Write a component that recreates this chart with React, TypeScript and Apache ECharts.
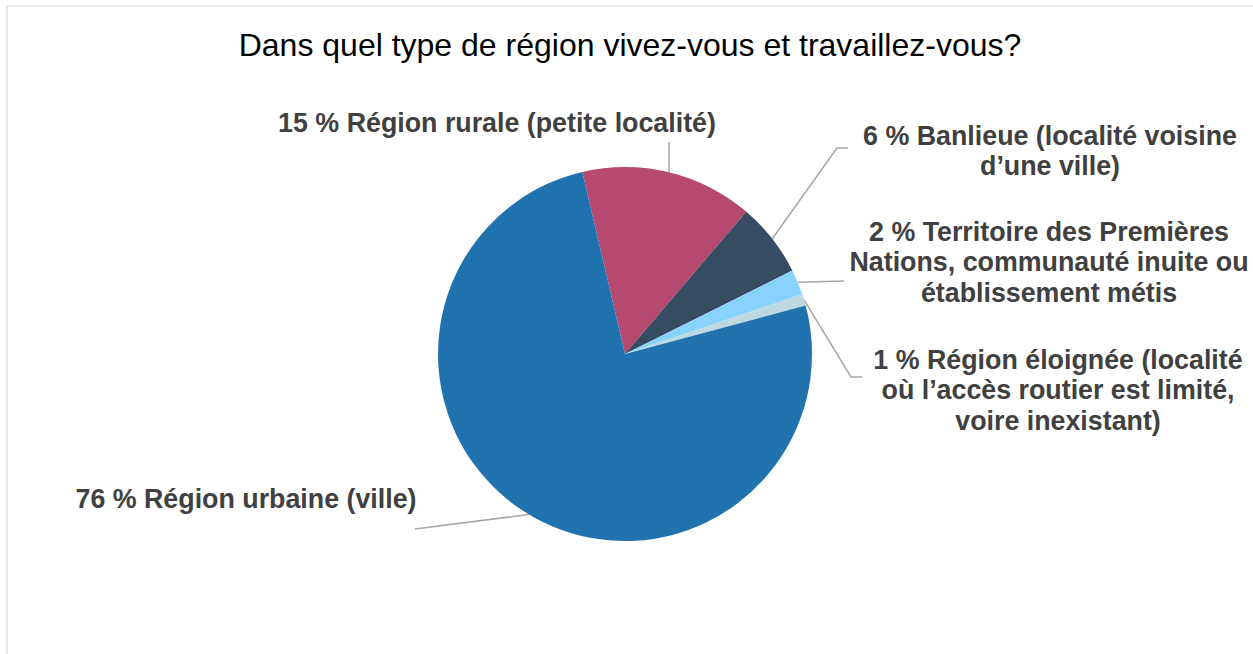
import React, { useEffect, useRef } from "react";
import * as echarts from "echarts";

const titleText = "Dans quel type de région vivez-vous et travaillez-vous?";
const categories = [
  "Région rurale (petite localité)",
  "Banlieue (localité voisine\nd’une ville)",
  "Territoire des Premières\nNations, communauté inuite ou\nétablissement métis",
  "Région éloignée (localité\noù l’accès routier est limité,\nvoire inexistant)",
  "Région urbaine (ville)",
];
const values = [14.9, 6.4, 2.2, 1.0, 75.5];
const colors = ["#B5496F", "#364C62", "#87D3FD", "#BED8E1", "#2173B0"];

const FONT = "'Liberation Sans', Arial, Helvetica, sans-serif";

// label anchor positions and leader-line bends (layout only)
const labelLayouts: Array<{ x: number; y: number; pts: (p: number[]) => number[][] }> = [
  { x: 497, y: 123, pts: (p) => [p, [p[0], 142], [p[0], 142]] },
  { x: 1050, y: 151, pts: (p) => [p, [837, 148], [848, 148]] },
  { x: 1049, y: 262, pts: (p) => [p, [844, 281], [844, 281]] },
  { x: 1058, y: 390, pts: (p) => [p, [851, 377], [862, 377]] },
  { x: 246, y: 499, pts: (p) => [p, [415, 529], [415, 529]] },
];

export default function App() {
  const ref = useRef<HTMLDivElement>(null);
  useEffect(() => {
    if (!ref.current) return;
    const chart = echarts.init(ref.current, null, { renderer: "svg" });
    chart.setOption({
      animation: false,
      backgroundColor: "#ffffff",
      graphic: [
        {
          type: "polyline",
          shape: { points: [[7, 700], [7, 6], [1300, 6]] },
          style: { stroke: "#D9D9D9", lineWidth: 1.2, fill: null },
          silent: true,
        },
        {
          type: "text",
          x: 630,
          y: 45,
          style: {
            text: titleText,
            align: "center",
            verticalAlign: "middle",
            fontFamily: FONT,
            fontSize: 32,
            fill: "#000000",
          },
        },
      ],
      series: [
        {
          type: "pie",
          center: [625, 354],
          radius: 187,
          startAngle: 103.2,
          clockwise: true,
          avoidLabelOverlap: false,
          data: categories.map((name, i) => ({
            name,
            value: values[i],
            itemStyle: { color: colors[i] },
          })),
          label: {
            show: true,
            position: "outside",
            formatter: (p: any) => `${Math.round(p.value)} % ${p.name}`,
            fontFamily: FONT,
            fontSize: 26.8,
            fontWeight: "bold",
            color: "#404040",
            lineHeight: 30.5,
            align: "center",
          },
          labelLine: {
            show: true,
            length: 10,
            length2: 10,
            smooth: false,
            lineStyle: { color: "#A6A6A6", width: 1.5 },
          },
          labelLayout: (params: any) => {
            const l = labelLayouts[params.dataIndex];
            const p0 = params.labelLinePoints ? params.labelLinePoints[0] : [0, 0];
            return {
              x: l.x,
              y: l.y,
              align: "center",
              verticalAlign: "middle",
              labelLinePoints: l.pts(p0),
            };
          },
          emphasis: { disabled: true },
        },
      ],
    });
    return () => chart.dispose();
  }, []);
  return (
    <div
      ref={ref}
      style={{ position: "fixed", left: 0, top: 0, width: 1253, height: 654 }}
    />
  );
}
